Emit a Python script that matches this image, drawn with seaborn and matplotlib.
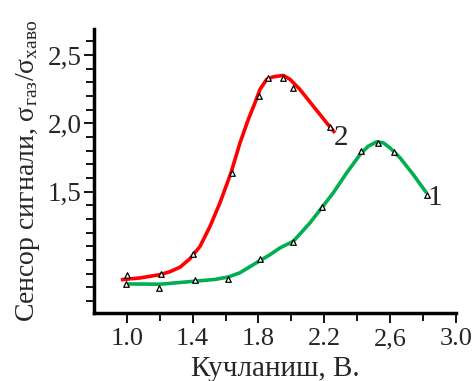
import matplotlib
matplotlib.use("Agg")
import matplotlib.pyplot as plt
import seaborn as sns

# Curve 2 (red) measured points
x2_pts = [1.00, 1.206, 1.401, 1.638, 1.805, 1.856, 1.947, 2.008, 2.234]
y2_pts = [0.892, 0.899, 1.046, 1.637, 2.203, 2.333, 2.328, 2.260, 1.971]
# Curve 2 fitted line
x2_line = [0.964, 1.081, 1.202, 1.263, 1.324, 1.384, 1.404, 1.445, 1.506, 1.566,
           1.633, 1.688, 1.738, 1.779, 1.809, 1.850, 1.890, 1.951, 1.992, 2.052,
           2.133, 2.214, 2.265]
y2_line = [0.855, 0.868, 0.892, 0.914, 0.947, 1.009, 1.038, 1.099, 1.246, 1.417,
           1.637, 1.857, 2.027, 2.150, 2.247, 2.321, 2.340, 2.350, 2.321, 2.247,
           2.125, 2.003, 1.930]

# Curve 1 (green) measured points
x1_pts = [0.996, 1.196, 1.417, 1.613, 1.811, 2.012, 2.188, 2.421, 2.524, 2.625, 2.821]
y1_pts = [0.826, 0.797, 0.855, 0.863, 1.009, 1.129, 1.388, 1.795, 1.852, 1.788, 1.476]
# Curve 1 fitted line
x1_line = [1.000, 1.202, 1.404, 1.536, 1.617, 1.688, 1.749, 1.809, 1.870, 1.931,
           2.012, 2.113, 2.184, 2.254, 2.336, 2.417, 2.467, 2.518, 2.558, 2.599,
           2.660, 2.740, 2.821]
y1_line = [0.824, 0.822, 0.843, 0.857, 0.875, 0.906, 0.951, 0.994, 1.038, 1.088,
           1.136, 1.271, 1.381, 1.490, 1.637, 1.771, 1.832, 1.864, 1.857, 1.820,
           1.747, 1.625, 1.490]

xtick_vals = [1.0, 1.4, 1.8, 2.2, 2.6, 3.0]
xtick_labels = ["1.0", "1.4", "1.8", "2.2", "2,6", "3.0"]
ytick_vals = [1.5, 2.0, 2.5]
ytick_labels = ["1,5", "2,0", "2,5"]

sns.set_style("ticks")
plt.rcParams['font.family'] = ['Liberation Serif', 'DejaVu Serif']
plt.rcParams['mathtext.fontset'] = 'custom'
plt.rcParams['mathtext.rm'] = 'Liberation Serif'
plt.rcParams['mathtext.it'] = 'Liberation Serif:italic'

fig = plt.figure(figsize=(4.74, 3.81), dpi=100)
ax = fig.add_axes([0.198, 0.178, 0.764, 0.746])

red = "#ff0000"
green = "#00b050"

line_kw = dict(linewidth=2.6, sort=False, estimator=None, solid_joinstyle='round',
               solid_capstyle='butt')
sns.lineplot(x=x2_line, y=y2_line, ax=ax, color=red, **line_kw)
sns.lineplot(x=x1_line, y=y1_line, ax=ax, color=green, **line_kw)
sns.scatterplot(x=x2_pts, y=y2_pts, ax=ax, marker="^", s=16, facecolor="white",
                edgecolor="black", linewidth=0.9, zorder=5)
sns.scatterplot(x=x1_pts, y=y1_pts, ax=ax, marker="^", s=16, facecolor="white",
                edgecolor="black", linewidth=0.9, zorder=5)

ax.text(2.26, 1.985, "2", fontsize=21, ha="left", va="top")
ax.text(2.825, 1.55, "1", fontsize=21, ha="left", va="top")

ax.set_xlim(0.80, 3.0)
ax.set_ylim(0.61, 2.69)

ax.set_xticks(xtick_vals)
ax.set_xticklabels(xtick_labels, fontsize=19)
ax.set_xticks([1.2, 1.6, 2.0, 2.4, 2.8], minor=True)
ax.set_yticks(ytick_vals)
ax.set_yticklabels(ytick_labels, fontsize=19.5)
ax.set_yticks([0.7, 0.8, 0.9, 1.0, 1.1, 1.2, 1.3, 1.4, 1.6, 1.7, 1.8, 1.9,
               2.1, 2.2, 2.3, 2.4, 2.6], minor=True)

ax.tick_params(axis='both', which='major', length=7, width=1.3, color='black', pad=2)
ax.tick_params(axis='both', which='minor', length=6, width=1.3, color='black')
ax.tick_params(axis='x', which='major', pad=4)

for s in ['top', 'right']:
    ax.spines[s].set_visible(False)
for s in ['left', 'bottom']:
    ax.spines[s].set_linewidth(2.5)
    ax.spines[s].set_color('black')

ax.set_xlabel("Кучланиш, В.", fontsize=21, labelpad=4)
ax.set_ylabel("Сенсор сигнали, σ$_{\\mathrm{газ}}$/σ$_{\\mathrm{хаво}}$", fontsize=20, labelpad=4)

fig.savefig("out.png", dpi=100)
